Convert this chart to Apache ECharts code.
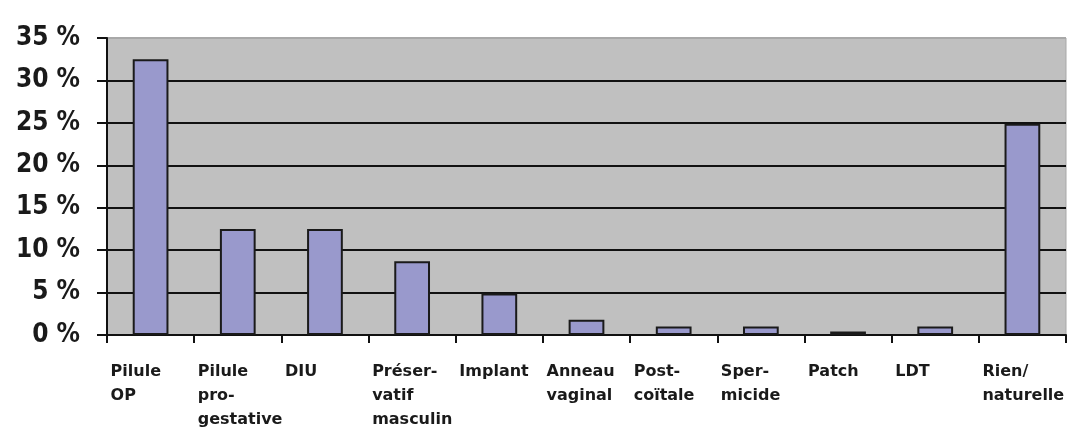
<!DOCTYPE html>
<html>
<head>
<meta charset="utf-8">
<script src="https://cdn.jsdelivr.net/npm/echarts@6/dist/echarts.min.js"></script>
<style>
  html, body { margin: 0; padding: 0; background: #fff; }
  #chart { width: 1086px; height: 444px; }
</style>
</head>
<body>
<div id="chart"></div>
<script>
// categories (line breaks as in the original)
const categories = [
  'Pilule\nOP',
  'Pilule\npro-\ngestative',
  'DIU',
  'Préser-\nvatif\nmasculin',
  'Implant',
  'Anneau\nvaginal',
  'Post-\ncoïtale',
  'Sper-\nmicide',
  'Patch',
  'LDT',
  'Rien/\nnaturelle'
];
// share of respondents, percent
const values = [32.5, 12.5, 12.5, 8.7, 4.9, 1.8, 1.0, 1.0, 0.4, 1.0, 24.9];

const yMin = 0;
const yMax = 35;
const yStep = 5;

// black gridlines, except the top one which is just the pale plot border
const gridColors = ['#111', '#111', '#111', '#111', '#111', '#111', '#111', '#a8a8a8'];

const chart = echarts.init(document.getElementById('chart'));
chart.setOption({
  animation: false,
  grid: {
    left: 107,
    right: 20,
    top: 38,
    bottom: 109,
    show: true,
    backgroundColor: '#c0c0c0',
    borderColor: '#a8a8a8',
    borderWidth: 1
  },
  xAxis: {
    type: 'category',
    data: categories,
    axisLine: { lineStyle: { color: '#111', width: 2 } },
    axisTick: { show: true, length: 8, lineStyle: { color: '#111', width: 2 } },
    axisLabel: {
      interval: 0,
      margin: 25,
      formatter: function (v) {
        return v.split('\n').map(function (s) { return '{l|' + s + '}'; }).join('\n');
      },
      rich: {
        l: {
          width: 80,
          align: 'left',
          fontFamily: 'DejaVu Sans',
          fontWeight: 'bold',
          fontSize: 16,
          lineHeight: 24,
          color: '#1a1a1a'
        }
      }
    }
  },
  yAxis: {
    type: 'value',
    min: yMin,
    max: yMax,
    interval: yStep,
    axisLine: { show: true, lineStyle: { color: '#111', width: 2 } },
    axisTick: { show: true, length: 10, lineStyle: { color: '#111', width: 2 } },
    splitLine: { lineStyle: { color: gridColors, width: 2 } },
    axisLabel: {
      margin: 27,
      formatter: '{value} %',
      fontFamily: 'Liberation Sans Narrow, DejaVu Sans Condensed',
      fontWeight: 'bold',
      fontSize: 26,
      color: '#1a1a1a'
    }
  },
  series: [{
    type: 'bar',
    data: values,
    barWidth: '41%',
    itemStyle: {
      color: '#9999cc',
      borderColor: '#1a1a1a',
      borderWidth: 2
    }
  }]
});
</script>
</body>
</html>
